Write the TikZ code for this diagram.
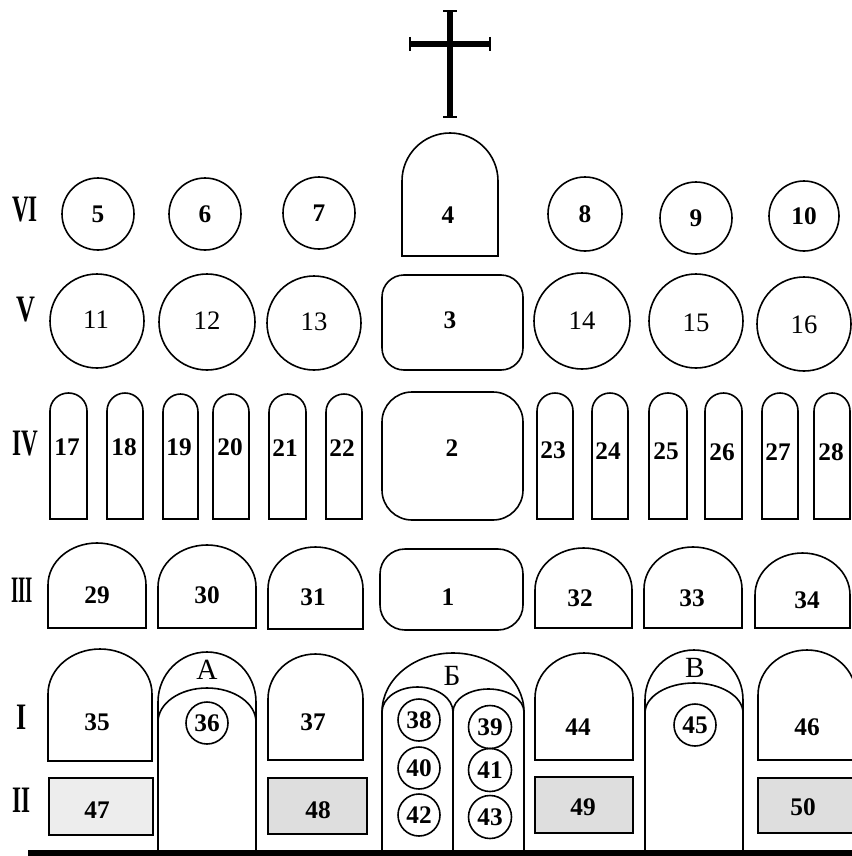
\documentclass[tikz,border=0pt]{standalone}
\usepackage{fontspec}
\setmainfont{Liberation Serif}
\usepackage{graphicx}
\tikzset{every picture/.style={line width=1.2pt}}
\tikzset{
  num/.style={inner sep=0.75pt,font=\fontsize{19}{19}\selectfont\bfseries},
  numlight/.style={inner sep=0.75pt,font=\fontsize{20}{20}\selectfont},
  letter/.style={inner sep=0.75pt,font=\fontsize{22}{22}\selectfont},
  rnum/.style={inner sep=0.75pt,font=\fontsize{28}{28}\selectfont\bfseries},
  stone/.style={fill=black!7},
  stonedark/.style={fill=black!13}
}

\begin{document}
\begin{tikzpicture}[x=0.75pt,y=0.75pt,yscale=-1,xscale=1]
\useasboundingbox (0,0) rectangle (852,856);

%Cross
\draw [line width=4.5pt] (450,12) -- (450,117) ;
\draw [line width=4pt] (411,44) -- (489,44) ;
\draw [line width=2pt] (443,11) -- (457,11) ;
\draw [line width=2pt] (443,117) -- (457,117) ;
\draw [line width=2pt] (410,37) -- (410,51) ;
\draw [line width=2pt] (490,37) -- (490,51) ;

%Row VI
%Shape: Circle
\draw (98,214) circle [radius=36] ;
\draw (205,214) circle [radius=36] ;
\draw (319,213) circle [radius=36] ;
%Shape: Arch
\draw (402,256) -- (402,181) arc [start angle=180,end angle=360,x radius=48,y radius=48] -- (498,256) -- cycle ;
\draw (585,214) circle [radius=37] ;
\draw (696,218) circle [radius=36] ;
\draw (804,216) circle [radius=35] ;

%Row V
\draw (97,321) circle [radius=47] ;
\draw (207,322) circle [radius=48] ;
\draw (314,323) circle [radius=47] ;
%Shape: Rounded Rectangle
\draw [rounded corners=16.5pt] (382,275) rectangle (523,370) ;
\draw (582,321) circle [radius=48] ;
\draw (696,321) circle [radius=47] ;
\draw (804,324) circle [radius=47] ;

%Row IV
%Shape: Window
\draw (50,519) -- (50,411) arc [start angle=180,end angle=360,x radius=18.5,y radius=18] -- (87,519) -- cycle ;
\draw (107,519) -- (107,411) arc [start angle=180,end angle=360,x radius=18,y radius=18] -- (143,519) -- cycle ;
\draw (163,519) -- (163,412) arc [start angle=180,end angle=360,x radius=17.5,y radius=18] -- (198,519) -- cycle ;
\draw (213,519) -- (213,412) arc [start angle=180,end angle=360,x radius=18,y radius=18] -- (249,519) -- cycle ;
\draw (269,519) -- (269,412) arc [start angle=180,end angle=360,x radius=18.5,y radius=18] -- (306,519) -- cycle ;
\draw (326,519) -- (326,412) arc [start angle=180,end angle=360,x radius=18,y radius=18] -- (362,519) -- cycle ;
\draw [rounded corners=22.5pt] (382,392) rectangle (523,520) ;
\draw (537,519) -- (537,411) arc [start angle=180,end angle=360,x radius=18,y radius=18] -- (573,519) -- cycle ;
\draw (592,519) -- (592,411) arc [start angle=180,end angle=360,x radius=18,y radius=18] -- (628,519) -- cycle ;
\draw (649,519) -- (649,411) arc [start angle=180,end angle=360,x radius=19,y radius=18] -- (687,519) -- cycle ;
\draw (705,519) -- (705,411) arc [start angle=180,end angle=360,x radius=18.5,y radius=18] -- (742,519) -- cycle ;
\draw (762,519) -- (762,411) arc [start angle=180,end angle=360,x radius=18,y radius=18] -- (798,519) -- cycle ;
\draw (814,519) -- (814,411) arc [start angle=180,end angle=360,x radius=18,y radius=18] -- (850,519) -- cycle ;

%Row III
\draw (48,628) -- (48,585) arc [start angle=180,end angle=360,x radius=49,y radius=42] -- (146,628) -- cycle ;
\draw (158,628) -- (158,587) arc [start angle=180,end angle=360,x radius=49,y radius=42] -- (256,628) -- cycle ;
\draw (268,629) -- (268,589) arc [start angle=180,end angle=360,x radius=47.5,y radius=42] -- (363,629) -- cycle ;
\draw [rounded corners=18.75pt] (380,549) rectangle (523,630) ;
\draw (535,628) -- (535,590) arc [start angle=180,end angle=360,x radius=48.5,y radius=42] -- (632,628) -- cycle ;
\draw (644,628) -- (644,589) arc [start angle=180,end angle=360,x radius=49,y radius=42] -- (742,628) -- cycle ;
\draw (755,628) -- (755,595) arc [start angle=180,end angle=360,x radius=47.5,y radius=42] -- (850,628) -- cycle ;

%Row I
\draw (48,761) -- (48,694) arc [start angle=180,end angle=360,x radius=52,y radius=45] -- (152,761) -- cycle ;
\draw (268,760) -- (268,699) arc [start angle=180,end angle=360,x radius=47.5,y radius=45] -- (363,760) -- cycle ;
\draw (535,760) -- (535,698) arc [start angle=180,end angle=360,x radius=49,y radius=45] -- (633,760) -- cycle ;
\draw (758,760) -- (758,695) arc [start angle=180,end angle=360,x radius=49,y radius=45] -- (856,760) -- cycle ;

%Shape: Door A
\draw (158,850) -- (158,702) arc [start angle=180,end angle=360,x radius=49,y radius=50] -- (256,850) ;
\draw (158,722) arc [start angle=180,end angle=360,x radius=49,y radius=34] ;
%Shape: Door B (middle)
\draw (382,850) -- (382,712) arc [start angle=180,end angle=360,x radius=71,y radius=59] -- (524,850) ;
\draw (382,712) arc [start angle=180,end angle=360,x radius=35.5,y radius=25] arc [start angle=180,end angle=360,x radius=35.5,y radius=23] ;
\draw (453,712) -- (453,850) ;
%Shape: Door V
\draw (645,850) -- (645,700) arc [start angle=180,end angle=360,x radius=49,y radius=50] -- (743,850) ;
\draw (645,713) arc [start angle=180,end angle=360,x radius=49,y radius=30] ;

%Circles in doors
\draw (207,723) circle [radius=21] ;
\draw (419,720) circle [radius=21] ;
\draw (419,768) circle [radius=21] ;
\draw (419,815) circle [radius=21] ;
\draw (490,727) circle [radius=21.5] ;
\draw (490,770) circle [radius=21.5] ;
\draw (490,817) circle [radius=21.5] ;
\draw (695,725) circle [radius=21] ;

%Row II
%Shape: Rectangle
\draw [stone] (49,778) rectangle (153,835) ;
\draw [stonedark] (268,778) rectangle (367,834) ;
\draw [stonedark] (535,777) rectangle (633,833) ;
\draw [stonedark] (758,778) rectangle (856,833) ;

%Ground
\draw [line width=4.5pt] (28,853) -- (852,853) ;

% Text Node
\draw (25,210) node (rVI) [rnum] {\scalebox{0.62}[1]{VI}};
\draw (26,310) node (rV) [rnum] {\scalebox{0.7}[1]{V}};
\draw (25,444) node (rIV) [rnum] {\scalebox{0.62}[1]{IV}};
\draw (22,590) node (rIII) [rnum] {\scalebox{0.5}[1]{III}};
\draw (22,717) node (rI) [rnum] {\scalebox{0.7}[1]{I}};
\draw (22,800) node (rII) [rnum] {\scalebox{0.62}[1]{II}};

% Text Node
\draw (98,214) node (n5) [num] {5};
\draw (205,214) node (n6) [num] {6};
\draw (319,213) node (n7) [num] {7};
\draw (448,215) node (n4) [num] {4};
\draw (585,214) node (n8) [num] {8};
\draw (696,218) node (n9) [num] {9};
\draw (804,216) node (n10) [num] {10};

\draw (96,320) node (n11) [numlight] {11};
\draw (207,321) node (n12) [numlight] {12};
\draw (314,322) node (n13) [numlight] {13};
\draw (450,320) node (n3) [num] {3};
\draw (582,321) node (n14) [numlight] {14};
\draw (696,323) node (n15) [numlight] {15};
\draw (804,325) node (n16) [numlight] {16};

\draw (67,447) node (n17) [num] {17};
\draw (124,447) node (n18) [num] {18};
\draw (179,447) node (n19) [num] {19};
\draw (230,447) node (n20) [num] {20};
\draw (285,448) node (n21) [num] {21};
\draw (342,448) node (n22) [num] {22};
\draw (452,448) node (n2) [num] {2};
\draw (553,450) node (n23) [num] {23};
\draw (608,451) node (n24) [num] {24};
\draw (666,451) node (n25) [num] {25};
\draw (722,452) node (n26) [num] {26};
\draw (778,452) node (n27) [num] {27};
\draw (831,452) node (n28) [num] {28};

\draw (97,595) node (n29) [num] {29};
\draw (207,595) node (n30) [num] {30};
\draw (313,597) node (n31) [num] {31};
\draw (448,597) node (n1) [num] {1};
\draw (580,598) node (n32) [num] {32};
\draw (692,598) node (n33) [num] {33};
\draw (807,600) node (n34) [num] {34};

\draw (97,722) node (n35) [num] {35};
\draw (207,670) node (lA) [letter] {А};
\draw (207,723) node (n36) [num] {36};
\draw (313,722) node (n37) [num] {37};
\draw (452,676) node (lB) [letter] {Б};
\draw (419,720) node (n38) [num] {38};
\draw (490,727) node (n39) [num] {39};
\draw (419,768) node (n40) [num] {40};
\draw (490,770) node (n41) [num] {41};
\draw (419,815) node (n42) [num] {42};
\draw (490,817) node (n43) [num] {43};
\draw (578,727) node (n44) [num] {44};
\draw (695,668) node (lV) [letter] {В};
\draw (695,725) node (n45) [num] {45};
\draw (807,727) node (n46) [num] {46};

\draw (97,810) node (n47) [num] {47};
\draw (318,810) node (n48) [num] {48};
\draw (583,807) node (n49) [num] {49};
\draw (803,807) node (n50) [num] {50};

\end{tikzpicture}
\end{document}
